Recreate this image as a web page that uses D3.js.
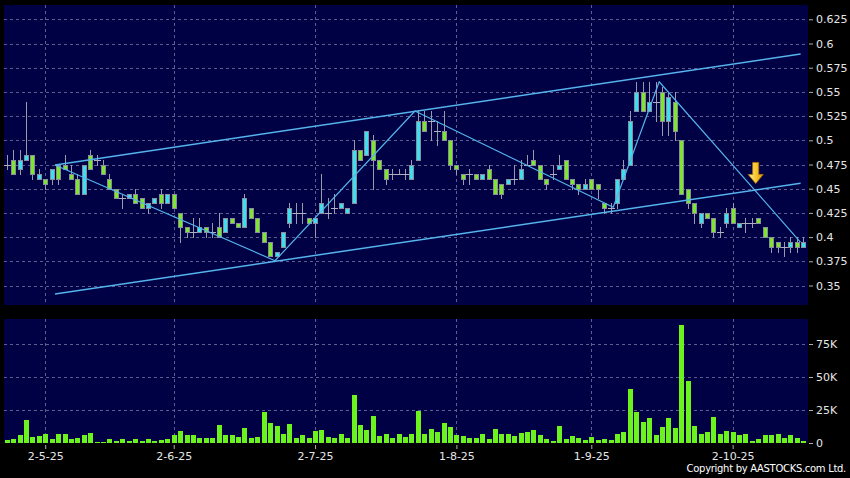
<!DOCTYPE html>
<html>
<head>
<meta charset="utf-8">
<script src="https://cdn.jsdelivr.net/npm/d3@7"></script>
<style>
html, body { margin: 0; padding: 0; background: #000; }
svg { display: block; }
text { font-family: "DejaVu Sans", sans-serif; }
</style>
</head>
<body>
<svg id="chart" width="850" height="478"></svg>
<script>
// daily candles, oldest first
var open = [
	.475,.48,.47,.48,.485,.46,.46,.46,.475,.475,
	.465,.46,.445,.485,.48,.475,.46,.45,.44,.44,
	.445,.44,.43,.435,.445,.435,.445,.425,.41,.405,
	.405,.41,.405,.41,.405,.42,.415,.41,.43,.42,
	.405,.395,.38,.39,.415,.425,.425,.42,.415,.425,
	.425,.43,.43,.425,.435,.49,.485,.50,.48,.47,
	.465,.465,.465,.46,.48,.52,.52,.51,.51,.50,
	.475,.465,.465,.465,.46,.47,.46,.455,.455,.46,
	.46,.475,.48,.475,.46,.465,.47,.48,.46,.455,
	.45,.46,.455,.435,.43,.435,.46,.475,.53,.55,
	.53,.54,.55,.52,.54,.50,.45,.435,.415,.425,
	.42,.405,.415,.43,.41,.415,.415,.42,.41,.40,
	.395,.39,.39,.395,.39
]
var high = [
	.485,.49,.49,.54,.485,.47,.46,.47,.475,.485,
	.475,.465,.475,.49,.485,.48,.465,.45,.445,.445,
	.45,.44,.435,.44,.45,.445,.445,.425,.41,.42,
	.42,.41,.415,.425,.42,.42,.415,.445,.43,.42,
	.405,.395,.385,.405,.435,.435,.435,.42,.42,.465,
	.44,.445,.435,.43,.50,.49,.51,.505,.48,.47,
	.47,.47,.47,.48,.53,.53,.53,.52,.53,.50,
	.475,.465,.47,.465,.465,.475,.46,.455,.46,.475,
	.48,.485,.49,.475,.46,.475,.485,.48,.46,.455,
	.46,.46,.455,.435,.435,.46,.48,.53,.56,.56,
	.56,.56,.555,.55,.55,.50,.45,.435,.425,.425,
	.42,.41,.43,.435,.415,.42,.42,.42,.41,.40,
	.395,.395,.40,.40,.40
]
var low = [
	.47,.465,.465,.48,.46,.46,.45,.455,.455,.47,
	.46,.445,.445,.47,.475,.465,.45,.44,.43,.44,
	.435,.43,.425,.435,.43,.435,.43,.395,.40,.40,
	.405,.40,.40,.40,.405,.415,.41,.41,.42,.405,
	.395,.38,.38,.39,.41,.415,.415,.415,.40,.425,
	.42,.425,.43,.425,.435,.48,.485,.45,.47,.455,
	.46,.465,.46,.46,.48,.51,.50,.495,.50,.47,
	.465,.455,.455,.46,.46,.46,.445,.44,.455,.455,
	.46,.475,.475,.46,.45,.46,.47,.46,.45,.445,
	.45,.45,.44,.425,.425,.43,.46,.475,.53,.53,
	.53,.52,.505,.505,.50,.445,.43,.415,.41,.42,
	.40,.40,.41,.415,.41,.405,.41,.415,.40,.385,
	.385,.38,.385,.385,.39
]
var close = [
	.475,.465,.48,.485,.465,.465,.455,.47,.46,.47,
	.46,.445,.475,.47,.48,.465,.45,.44,.44,.445,
	.435,.43,.435,.44,.435,.445,.43,.41,.405,.405,
	.41,.405,.405,.40,.42,.415,.41,.44,.42,.405,
	.395,.38,.385,.405,.43,.425,.425,.415,.42,.435,
	.425,.43,.435,.43,.49,.48,.51,.48,.47,.46,
	.465,.465,.465,.475,.52,.51,.52,.51,.50,.475,
	.47,.46,.465,.46,.465,.46,.445,.445,.46,.46,
	.47,.475,.475,.46,.455,.465,.475,.46,.455,.45,
	.455,.45,.45,.43,.43,.46,.47,.52,.55,.53,
	.54,.54,.52,.545,.51,.445,.435,.425,.425,.42,
	.405,.405,.425,.415,.415,.415,.415,.415,.40,.39,
	.39,.39,.395,.39,.395
]
// volume in thousands of shares
var volumeK = [
	2.5,3.3,6,17.7,4.8,5.5,6.8,3.3,6.8,7,
	2.8,4,6,7.6,1,1,3.3,1.8,3,1.8,
	3.3,1.8,2.8,1.5,2,2.8,6.3,9,5.8,6,
	3.5,3.5,3.8,13.4,6,5.8,4.8,11.6,3.8,4.8,
	23.7,14.9,12.9,7,14.4,4,5.8,3.8,9.3,10.1,
	4.8,3.8,6.8,3.8,36.4,13.6,9.8,20.2,5.3,6.8,
	4,6.8,4.3,6.8,24,6.8,10.6,8.6,14.9,11.9,
	5.8,5,3.5,4,6.8,3.3,10.9,7,6.8,5.5,
	7.6,8,9.6,5.8,3,1.5,13.1,3.3,5,3.8,
	2.3,4.8,2.5,3.3,2.3,6.6,8.3,41.2,23.7,16.2,
	18.9,6,12.1,18.9,11.4,89.4,47,12.9,7,8,
	20,6.8,9.3,8.3,6.3,7,1.8,3,6,6,
	6.6,3.5,6,3.8,1.8
]

var dateTickIdx = [6, 26, 48, 70, 91, 113]
var dateTickLabels = ["2-5-25", "2-6-25", "2-7-25", "1-8-25", "1-9-25", "2-10-25"]
var priceTicks = [0.35, 0.375, 0.4, 0.425, 0.45, 0.475, 0.5, 0.525, 0.55, 0.575, 0.6, 0.625]
var volTicks = [0, 25000, 50000, 75000]

// hand drawn lines, in [candle index, price]
var upperChannel = [[7.52, 0.4745], [123.58, 0.5892]]
var lowerChannel = [[7.52, 0.3412], [123.58, 0.4556]]
var zigzag = [[7.52, 0.4745], [41.76, 0.3756], [63.55, 0.5303], [94.41, 0.4308], [101.57, 0.5605], [123.55, 0.3949]]
var arrowTip = [116.59, 0.4554]

var N = close.length
var candles = d3.range(N).map(function(i){
	return {i: i, o: open[i], h: high[i], l: low[i], c: close[i], v: volumeK[i] * 1000}
})

var svg = d3.select("#chart")

var main = {left: 4, top: 5, right: 808, bottom: 305}
var vol = {left: 4, top: 319, right: 808, bottom: 443}

var x = d3.scaleLinear().domain([0, N - 1]).range([6.7, 803.3])
var y = d3.scaleLinear().domain([0.35, 0.625]).range([285.5, 19.3])
var yv = d3.scaleLinear().domain([0, 75000]).range([443, 344])

var navy = "#000044"
var gridCol = "#5d5d8f"
var cyan = "#3ae0f2"
var green = "#7be82c"
var volGreen = "#6cf21c"
var lineCol = "#55b4ec"

function px(v){ return Math.round(v) + 0.5 }

// panels
_ = [main, vol].forEach(function(p){
	svg.append("rect")
		.attr("x", p.left).attr("y", p.top)
		.attr("width", p.right - p.left).attr("height", p.bottom - p.top)
		.attr("fill", navy)
})

// grid
var grid = svg.append("g")
	.attr("stroke", gridCol)
	.attr("stroke-width", 1)
	.attr("stroke-dasharray", "3,3")
	.attr("shape-rendering", "crispEdges")

grid.selectAll(".hp").data(priceTicks).enter().append("line")
	.attr("x1", main.left).attr("x2", main.right)
	.attr("y1", function(d){ return px(y(d)) }).attr("y2", function(d){ return px(y(d)) })

grid.selectAll(".hv").data(volTicks.slice(1)).enter().append("line")
	.attr("x1", vol.left).attr("x2", vol.right)
	.attr("y1", function(d){ return px(yv(d)) }).attr("y2", function(d){ return px(yv(d)) })

_ = [main, vol].forEach(function(p){
	grid.append("g").selectAll("line").data(dateTickIdx).enter().append("line")
		.attr("x1", function(d){ return px(x(d)) }).attr("x2", function(d){ return px(x(d)) })
		.attr("y1", p.top).attr("y2", p.bottom)
})

// volume bars
svg.append("g")
	.attr("shape-rendering", "crispEdges")
	.selectAll("rect").data(candles).enter().append("rect")
	.attr("x", function(d){ return Math.round(x(d.i)) - 2 })
	.attr("width", 5)
	.attr("y", function(d){ return Math.round(yv(d.v)) })
	.attr("height", function(d){ return Math.max(1, vol.bottom - Math.round(yv(d.v))) })
	.attr("fill", volGreen)

// candles
var cg = svg.append("g").attr("shape-rendering", "crispEdges")

cg.selectAll("line.wick").data(candles).enter().append("line")
	.attr("class", "wick")
	.attr("x1", function(d){ return px(x(d.i)) }).attr("x2", function(d){ return px(x(d.i)) })
	.attr("y1", function(d){ return Math.round(y(d.h)) }).attr("y2", function(d){ return Math.round(y(d.l)) + 1 })
	.attr("stroke", "#9a9aa8")

cg.selectAll("rect.body").data(candles.filter(function(d){ return d.o !== d.c })).enter().append("rect")
	.attr("class", "body")
	.attr("x", function(d){ return Math.round(x(d.i)) - 2 + 0.5 })
	.attr("width", 4)
	.attr("y", function(d){ return Math.round(y(Math.max(d.o, d.c))) + 0.5 })
	.attr("height", function(d){ return Math.max(1, Math.round(y(Math.min(d.o, d.c))) - Math.round(y(Math.max(d.o, d.c)))) })
	.attr("fill", function(d){ return d.c > d.o ? cyan : green })
	.attr("stroke", "#8c8c9c")
	.attr("stroke-width", 1)

cg.selectAll("line.doji").data(candles.filter(function(d){ return d.o === d.c })).enter().append("line")
	.attr("class", "doji")
	.attr("x1", function(d){ return Math.round(x(d.i)) - 3 }).attr("x2", function(d){ return Math.round(x(d.i)) + 4 })
	.attr("y1", function(d){ return px(y(d.c)) }).attr("y2", function(d){ return px(y(d.c)) })
	.attr("stroke", "#b0b0c0")

// trend lines
var lineGen = d3.line().x(function(d){ return x(d[0]) }).y(function(d){ return y(d[1]) })
_ = [upperChannel, lowerChannel, zigzag].forEach(function(pts, k){
	svg.append("path")
		.attr("d", lineGen(pts))
		.attr("fill", "none")
		.attr("stroke", lineCol)
		.attr("stroke-width", k < 2 ? 1.5 : 1.2)
		.attr("stroke-linejoin", "round")
})

// arrow marker
var grad = svg.append("defs").append("linearGradient").attr("id", "arrowGrad")
	.attr("x1", 0).attr("x2", 1).attr("y1", 0).attr("y2", 0)
grad.append("stop").attr("offset", "0%").attr("stop-color", "#fff2a0")
grad.append("stop").attr("offset", "55%").attr("stop-color", "#f8c42a")
grad.append("stop").attr("offset", "100%").attr("stop-color", "#d98e10")

var ax = x(arrowTip[0]), ay = y(arrowTip[1])
svg.append("path")
	.attr("d", "M" + ax + "," + ay +
		" L" + (ax - 7.5) + "," + (ay - 9) +
		" L" + (ax - 3) + "," + (ay - 9) +
		" L" + (ax - 3) + "," + (ay - 21) +
		" L" + (ax + 3) + "," + (ay - 21) +
		" L" + (ax + 3) + "," + (ay - 9) +
		" L" + (ax + 7.5) + "," + (ay - 9) + " Z")
	.attr("fill", "url(#arrowGrad)")
	.attr("stroke", "#b87a0c")
	.attr("stroke-width", 0.8)

// axes
function styleAxis(g){
	g.select(".domain").remove()
	g.selectAll(".tick line").attr("stroke", "#b0b0b0")
	g.selectAll(".tick text").attr("fill", "#e6e6e6").attr("font-size", 11)
		.attr("font-family", "DejaVu Sans, sans-serif")
}

svg.append("g")
	.attr("transform", "translate(809,0)")
	.call(d3.axisRight(y).tickValues(priceTicks).tickSize(4).tickPadding(3)
		.tickFormat(function(d){ return String(+d.toFixed(3)) }))
	.call(styleAxis)

svg.append("g")
	.attr("transform", "translate(809,0)")
	.call(d3.axisRight(yv).tickValues(volTicks).tickSize(4).tickPadding(3)
		.tickFormat(function(d){ return d === 0 ? "0" : (d / 1000) + "K" }))
	.call(styleAxis)

svg.append("g")
	.attr("transform", "translate(0,445)")
	.call(d3.axisBottom(x).tickValues(dateTickIdx).tickSize(4).tickPadding(3)
		.tickFormat(function(d, k){ return dateTickLabels[k] }))
	.call(styleAxis)

svg.append("text")
	.attr("x", 846).attr("y", 472)
	.attr("text-anchor", "end")
	.attr("fill", "#ffffff")
	.attr("font-size", 10)
	.attr("letter-spacing", -0.3)
	.text("Copyright by AASTOCKS.com Ltd.")
</script>
</body>
</html>
